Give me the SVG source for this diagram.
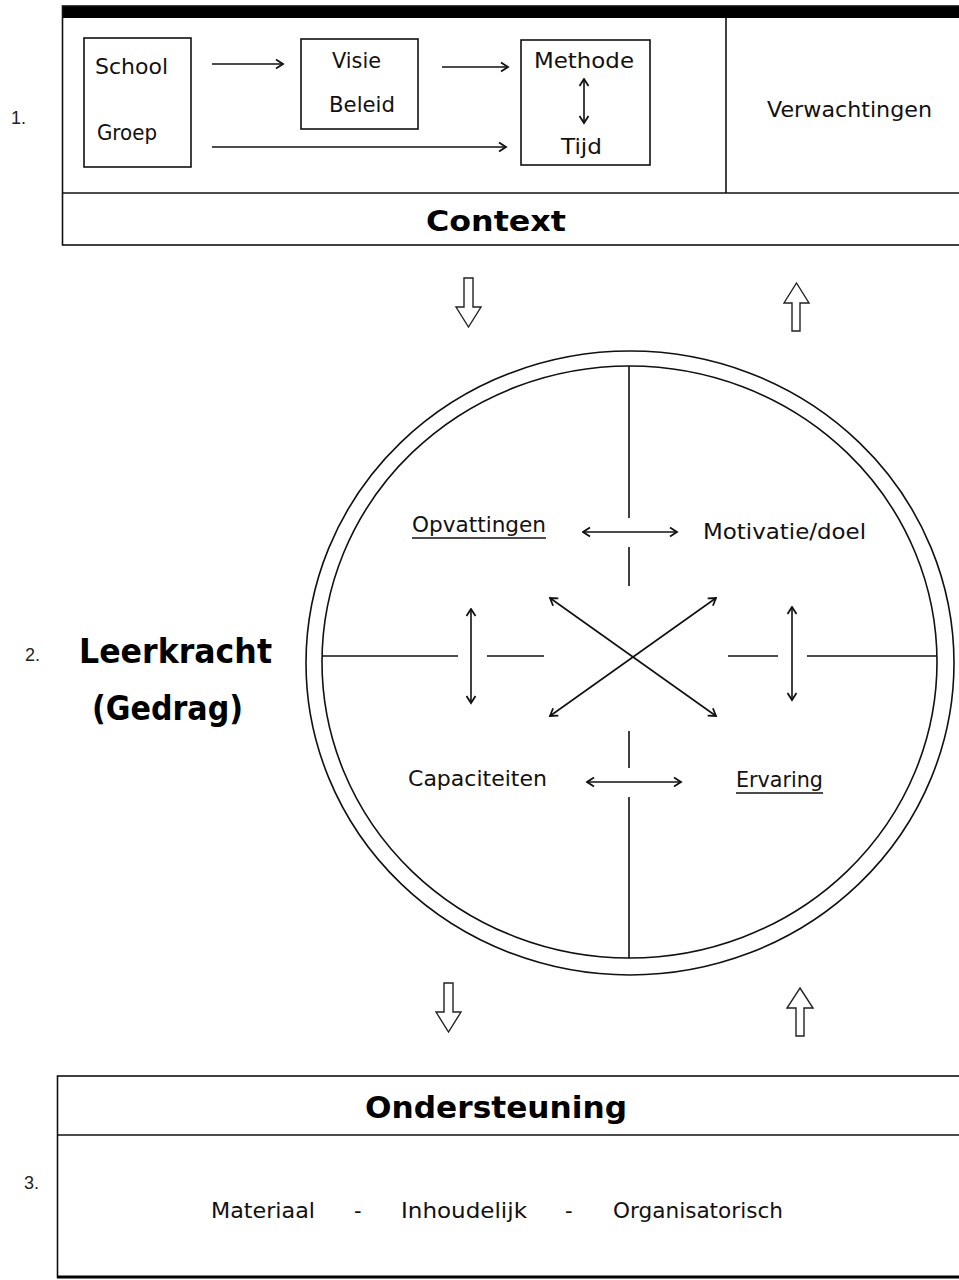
<svg xmlns="http://www.w3.org/2000/svg" width="959" height="1280" viewBox="0 0 959 1280">
<style>
.t{font-family:"DejaVu Sans",sans-serif;font-size:21px;fill:#111}
.b{font-family:"DejaVu Sans",sans-serif;font-weight:bold;fill:#000}
.n{font-family:"Liberation Sans",Arial,sans-serif;font-size:18px;fill:#222}
.box{fill:none;stroke:#111;stroke-width:1.6}
.ln{stroke:#111;stroke-width:1.6;fill:none}
.ar{stroke:#111;stroke-width:1.6;fill:none;marker-end:url(#ah)}
.ar2{stroke:#111;stroke-width:1.6;fill:none;marker-end:url(#ah);marker-start:url(#ahs)}
.blk{fill:#fff;stroke:#222;stroke-width:1.4;stroke-linejoin:miter}
</style>
<defs>
<marker id="ah" markerUnits="userSpaceOnUse" markerWidth="14" markerHeight="14" refX="10" refY="6" orient="auto">
<path d="M3,1.5 L10,6 L3,10.5" fill="none" stroke="#111" stroke-width="1.8"/>
</marker>
<marker id="ahs" markerUnits="userSpaceOnUse" markerWidth="14" markerHeight="14" refX="1" refY="6" orient="auto">
<path d="M8,1.5 L1,6 L8,10.5" fill="none" stroke="#111" stroke-width="1.8"/>
</marker>
</defs>
<rect width="959" height="1280" fill="#fff"/>

<g id="context">
<rect x="62" y="6" width="910" height="12" fill="#000"/>
<rect class="box" x="62.5" y="6" width="910" height="239"/>
<line class="ln" x1="62" y1="193" x2="959" y2="193"/>
<line class="ln" x1="726" y1="18" x2="726" y2="193"/>
<text class="n" x="11" y="124">1.</text>
<text class="b" x="426" y="231" font-size="29" textLength="140" lengthAdjust="spacingAndGlyphs">Context</text>
<text class="t" x="767" y="117" textLength="165" lengthAdjust="spacingAndGlyphs">Verwachtingen</text>
</g>

<g id="school">
<rect class="box" x="84" y="38" width="107" height="129"/>
<text class="t" x="95" y="74" textLength="73" lengthAdjust="spacingAndGlyphs">School</text>
<text class="t" x="97" y="140" textLength="60" lengthAdjust="spacingAndGlyphs">Groep</text>
</g>

<g id="visie">
<rect class="box" x="301" y="39" width="117" height="90"/>
<text class="t" x="332" y="68" textLength="49" lengthAdjust="spacingAndGlyphs">Visie</text>
<text class="t" x="329" y="112" textLength="66" lengthAdjust="spacingAndGlyphs">Beleid</text>
</g>

<g id="methode">
<rect class="box" x="521" y="40" width="129" height="125"/>
<text class="t" x="534" y="68" textLength="100" lengthAdjust="spacingAndGlyphs">Methode</text>
<text class="t" x="561" y="154" textLength="41" lengthAdjust="spacingAndGlyphs">Tijd</text>
</g>

<g id="leerkracht">
<text class="n" x="25" y="661">2.</text>
<text class="b" x="79" y="663" font-size="33" textLength="193" lengthAdjust="spacingAndGlyphs">Leerkracht</text>
<text class="b" x="92" y="720" font-size="33" textLength="151" lengthAdjust="spacingAndGlyphs">(Gedrag)</text>
</g>

<g id="cirkel">
<ellipse cx="630" cy="663" rx="324" ry="312" class="box"/>
<ellipse cx="629.5" cy="662" rx="307.5" ry="296" class="box"/>
</g>

<g id="opvattingen">
<text class="t" x="412" y="532" textLength="134" lengthAdjust="spacingAndGlyphs">Opvattingen</text>
<line class="ln" x1="412" y1="538" x2="546" y2="538"/>
</g>
<g id="motivatie">
<text class="t" x="703" y="539" textLength="163" lengthAdjust="spacingAndGlyphs">Motivatie/doel</text>
</g>
<g id="capaciteiten">
<text class="t" x="408" y="786" textLength="139" lengthAdjust="spacingAndGlyphs">Capaciteiten</text>
</g>
<g id="ervaring">
<text class="t" x="736" y="787" textLength="87" lengthAdjust="spacingAndGlyphs">Ervaring</text>
<line class="ln" x1="736" y1="793" x2="823" y2="793"/>
</g>

<g id="ondersteuning">
<rect class="box" x="57.5" y="1076" width="915" height="201"/>
<line x1="57" y1="1277" x2="959" y2="1277" stroke="#000" stroke-width="3"/>
<line class="ln" x1="57" y1="1135" x2="959" y2="1135"/>
<text class="n" x="24" y="1189">3.</text>
<text class="b" x="365" y="1118" font-size="30" textLength="262" lengthAdjust="spacingAndGlyphs">Ondersteuning</text>
<text class="t" x="211" y="1218" textLength="104" lengthAdjust="spacingAndGlyphs">Materiaal</text>
<text class="t" x="354" y="1218">-</text>
<text class="t" x="401" y="1218" textLength="126" lengthAdjust="spacingAndGlyphs">Inhoudelijk</text>
<text class="t" x="565" y="1218">-</text>
<text class="t" x="613" y="1218" textLength="170" lengthAdjust="spacingAndGlyphs">Organisatorisch</text>
</g>

<g id="connectors">
<line class="ar" x1="212" y1="64" x2="283" y2="64"/>
<line class="ar" x1="442" y1="67" x2="508" y2="67"/>
<line class="ar" x1="212" y1="147" x2="506" y2="147"/>
<line class="ar2" x1="584" y1="79" x2="584" y2="123"/>

<line class="ln" x1="322" y1="656" x2="458" y2="656"/>
<line class="ln" x1="487" y1="656" x2="544" y2="656"/>
<line class="ln" x1="728" y1="656" x2="778" y2="656"/>
<line class="ln" x1="807" y1="656" x2="937" y2="656"/>
<line class="ln" x1="629" y1="366" x2="629" y2="518"/>
<line class="ln" x1="629" y1="547" x2="629" y2="586"/>
<line class="ln" x1="629" y1="731" x2="629" y2="768"/>
<line class="ln" x1="629" y1="797" x2="629" y2="958"/>

<line class="ar2" x1="583" y1="532" x2="677" y2="532"/>
<line class="ar2" x1="587" y1="782" x2="681" y2="782"/>
<line class="ar2" x1="471" y1="609" x2="471" y2="703"/>
<line class="ar2" x1="792" y1="607" x2="792" y2="700"/>
<line class="ar2" x1="550" y1="598" x2="716" y2="716"/>
<line class="ar2" x1="716" y1="598" x2="550" y2="716"/>

<polygon class="blk" points="464,278 473,278 473,307 481,307 468.5,327 456,307 464,307"/>
<polygon class="blk" points="796.5,283 809,303 800,303 800,331 792,331 792,303 784,303"/>
<polygon class="blk" points="444,983 453,983 453,1012 461,1012 448.5,1032 436,1012 444,1012"/>
<polygon class="blk" points="800,988 813,1008 804,1008 804,1036 796,1036 796,1008 787,1008"/>
</g>
</svg>
